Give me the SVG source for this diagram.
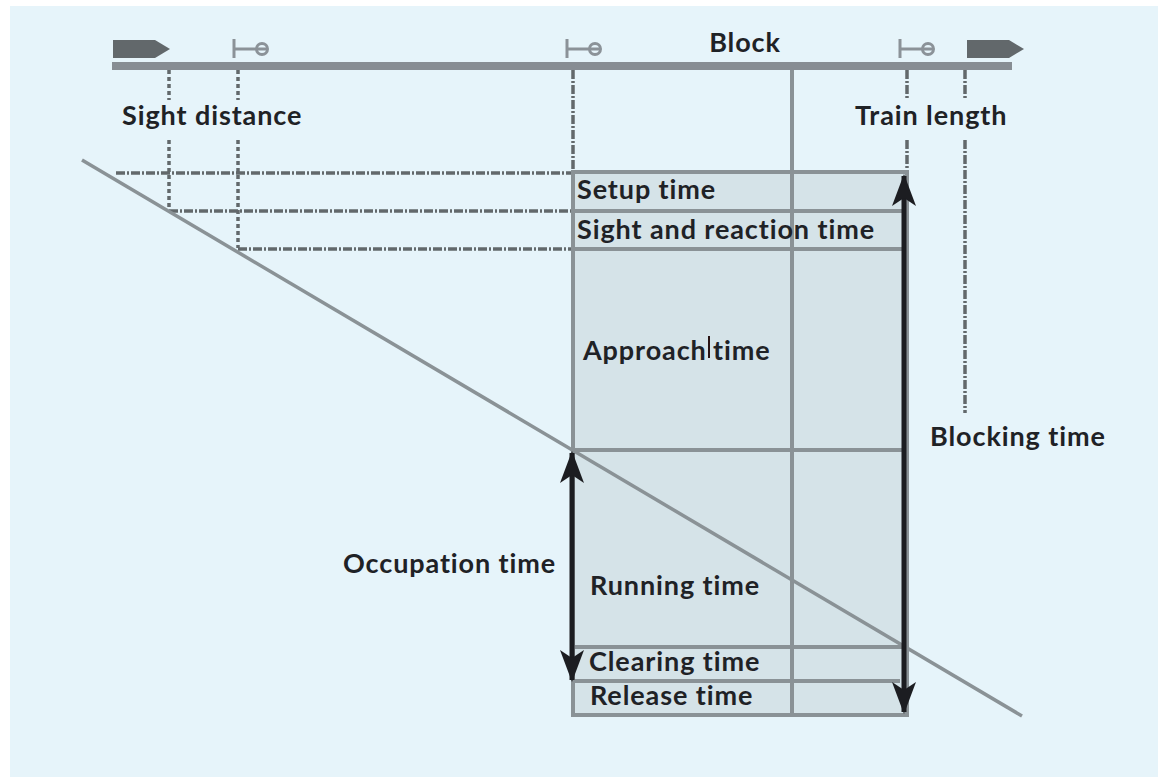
<svg xmlns="http://www.w3.org/2000/svg" width="1158" height="777" viewBox="0 0 1158 777">
  <defs>
    <style>
      .lbl { font-family: Lato, "Open Sans", "Liberation Sans", sans-serif; font-weight: 700; font-size: 27px; fill: #1f2226; letter-spacing: 0.9px; }
      .track { stroke: #878d93; stroke-width: 8; }
      .sig { stroke: #8b9298; stroke-width: 3; fill: none; }
      .dot { stroke: #62686b; stroke-width: 3.5; stroke-dasharray: 4 3; fill: none; }
      .dashdot { stroke: #62686b; stroke-width: 3.5; stroke-dasharray: 9 2 2 2; fill: none; }
      .grid { stroke: #8a9296; stroke-width: 4; fill: none; }
      .diag { stroke: #8a9296; stroke-width: 3.5; fill: none; }
      .arrow { stroke: #1c1d21; stroke-width: 5; fill: none; }
    </style>
    <marker id="ah" viewBox="0 0 32 24" refX="30" refY="12" markerWidth="32" markerHeight="24" orient="auto-start-reverse" markerUnits="userSpaceOnUse">
      <path d="M0,0 L32,12 L0,24 L8,12 Z" fill="#1c1d21"/>
    </marker>
  </defs>

  <!-- panel -->
  <rect x="0" y="0" width="1158" height="777" fill="#ffffff"/>
  <rect x="10" y="6" width="1148" height="771" fill="#e6f4fa"/>

  <!-- track with trains and signals -->
  <g id="track">
    <line class="track" x1="112" y1="66" x2="1012" y2="66"/>
    <path d="M113,40 H155 L170,49 L155,58 H113 Z" fill="#62686b"/>
    <path d="M967,40 H1009 L1024,49 L1009,58 H967 Z" fill="#62686b"/>
  </g>
  <g id="signals">
    <path class="sig" d="M234,39 V58 M234,49 H267"/><circle class="sig" cx="262" cy="49" r="5.5"/>
    <path class="sig" d="M567,39 V58 M567,49 H600"/><circle class="sig" cx="595" cy="49" r="5.5"/>
    <path class="sig" d="M900,39 V58 M900,49 H933"/><circle class="sig" cx="928" cy="49" r="5.5"/>
  </g>

  <!-- block time rectangle -->
  <g id="blocking-box">
    <rect x="573" y="172" width="334" height="543" fill="#d5e3e8"/>
    <line class="grid" x1="792" y1="70" x2="792" y2="715"/>
    <rect class="grid" x="573" y="172" width="334" height="543"/>
    <line class="grid" x1="573" y1="211" x2="907" y2="211"/>
    <line class="grid" x1="573" y1="249" x2="907" y2="249"/>
    <line class="grid" x1="573" y1="450" x2="907" y2="450"/>
    <line class="grid" x1="573" y1="647" x2="907" y2="647"/>
    <line class="grid" x1="573" y1="681" x2="900" y2="681"/>
  </g>

  <!-- connectors: reference lines, train path and time arrows -->
  <g id="connectors">
    <line class="dot" x1="169" y1="70" x2="169" y2="100"/>
    <line class="dot" x1="169" y1="140" x2="169" y2="210"/>
    <line class="dot" x1="238" y1="70" x2="238" y2="100"/>
    <line class="dot" x1="238" y1="140" x2="238" y2="248"/>

    <line class="dashdot" x1="573" y1="70" x2="573" y2="170"/>
    <line class="dashdot" x1="907" y1="70" x2="907" y2="100"/>
    <line class="dashdot" x1="907" y1="140" x2="907" y2="170"/>
    <line class="dashdot" x1="965" y1="70" x2="965" y2="100"/>
    <line class="dashdot" x1="965" y1="140" x2="965" y2="413"/>

    <line class="dashdot" x1="116" y1="173" x2="571" y2="173"/>
    <line class="dashdot" x1="169" y1="211" x2="571" y2="211"/>
    <line class="dashdot" x1="238" y1="249" x2="571" y2="249"/>

    <line class="diag" x1="82" y1="160" x2="1022" y2="716"/>

    <line class="arrow" x1="904" y1="176" x2="904" y2="712" marker-start="url(#ah)" marker-end="url(#ah)"/>
    <line class="arrow" x1="572" y1="453" x2="572" y2="680" marker-start="url(#ah)" marker-end="url(#ah)"/>
  </g>

  <!-- labels -->
  <g id="labels">
    <text class="lbl" x="745" y="52" text-anchor="middle">Block</text>
    <text class="lbl" x="122" y="125">Sight distance</text>
    <text class="lbl" x="855" y="125">Train length</text>
    <text class="lbl" x="577" y="199">Setup time</text>
    <text class="lbl" x="577" y="239">Sight and reaction time</text>
    <text class="lbl" x="583" y="360">Approach <tspan x="713">time</tspan></text>
    <line x1="709" y1="336" x2="709" y2="358" stroke="#2a1414" stroke-width="2"/>
    <text class="lbl" x="930" y="446">Blocking time</text>
    <text class="lbl" x="343" y="573">Occupation time</text>
    <text class="lbl" x="590" y="595">Running time</text>
    <text class="lbl" x="589" y="671">Clearing time</text>
    <text class="lbl" x="590" y="705">Release time</text>
  </g>
</svg>
